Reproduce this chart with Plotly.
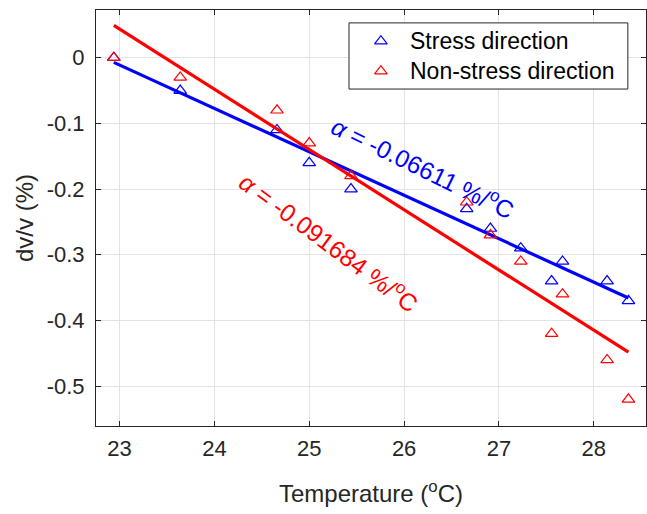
import numpy as np
import plotly.graph_objects as go

# Measured temperatures and relative velocity change
temperature = [22.94, 23.64, 24.66, 25.00, 25.44, 26.66, 26.91, 27.23, 27.555, 27.67, 28.14, 28.365]
dvv_stress = [0.00, -0.05, -0.11, -0.16, -0.20, -0.23, -0.26, -0.29, -0.34, -0.31, -0.34, -0.37]
dvv_nonstress = [0.00, -0.03, -0.08, -0.13, -0.18, -0.22, -0.27, -0.31, -0.42, -0.36, -0.46, -0.52]

# Temperature sensitivities (slope of the linear fit, %/degC)
alpha_stress = -0.06611
alpha_nonstress = -0.091684

series_names = ["Stress direction", "Non-stress direction"]

x_ticks = [23, 24, 25, 26, 27, 28]
y_ticks = [0, -0.1, -0.2, -0.3, -0.4, -0.5]

BLUE = "#0000ff"
RED = "#ff0000"
INK = "#262626"
FONT = "Liberation Sans, Arial, Helvetica, sans-serif"


def fit_line(x, y, slope):
    x = np.asarray(x, dtype=float)
    y = np.asarray(y, dtype=float)
    intercept = y.mean() - slope * x.mean()
    xs = np.array([x.min(), x.max()])
    return xs, intercept + slope * xs


fig = go.Figure()

for y, color, name, slope in [
    (dvv_stress, BLUE, series_names[0], alpha_stress),
    (dvv_nonstress, RED, series_names[1], alpha_nonstress),
]:
    fig.add_trace(go.Scatter(
        x=temperature, y=y, mode="markers", name=name, showlegend=False,
        marker=dict(symbol="triangle-up-open", size=11, color=color,
                    line=dict(width=1.2, color=color)),
    ))
    lx, ly = fit_line(temperature, y, slope)
    fig.add_trace(go.Scatter(
        x=lx, y=ly, mode="lines", showlegend=False,
        line=dict(color=color, width=3.2), hoverinfo="skip",
    ))

fig.add_annotation(
    x=26.207, y=-0.165, xref="x", yref="y", showarrow=False,
    text=f"<i>α</i> = {alpha_stress:.5f} %/<sup>o</sup>C",
    textangle=26, font=dict(size=24.5, color=BLUE, family=FONT),
)
fig.add_annotation(
    x=25.218, y=-0.2805, xref="x", yref="y", showarrow=False,
    text=f"<i>α</i> = {alpha_nonstress:.6f} %/<sup>o</sup>C",
    textangle=36.5, font=dict(size=24.5, color=RED, family=FONT),
)

# Legend box in the upper right corner, laid out on a unit overlay axis
box_x0, box_x1, box_y0, box_y1 = 0.460, 0.967, 0.810, 0.969
row_y = [0.925, 0.853]
fig.add_trace(go.Scatter(
    x=[box_x0, box_x1, box_x1, box_x0, box_x0],
    y=[box_y0, box_y0, box_y1, box_y1, box_y0],
    xaxis="x2", yaxis="y2", mode="lines", fill="toself",
    fillcolor="white", line=dict(color=INK, width=1),
    showlegend=False, hoverinfo="skip",
))
fig.add_trace(go.Scatter(
    x=[0.518, 0.518], y=row_y, xaxis="x2", yaxis="y2", mode="markers",
    showlegend=False, hoverinfo="skip",
    marker=dict(symbol="triangle-up-open", size=11, color=[BLUE, RED],
                line=dict(width=1.2, color=[BLUE, RED])),
))
for name, ry in zip(series_names, row_y):
    fig.add_annotation(x=0.568, y=ry, xref="paper", yref="paper",
                       xanchor="left", yanchor="middle", showarrow=False,
                       text=name, font=dict(size=23, color="black", family=FONT))

axis_common = dict(
    showline=True, linecolor=INK, linewidth=1, mirror="ticks",
    ticks="inside", ticklen=5, tickcolor=INK,
    showgrid=True, gridcolor="#e3e3e3", gridwidth=1,
    zeroline=False, tickfont=dict(size=22, color=INK, family=FONT),
)

fig.update_xaxes(
    range=[22.752, 28.55], tickvals=x_ticks, ticktext=[str(v) for v in x_ticks],
    title=dict(text="Temperature (<sup>o</sup>C)", font=dict(size=24, color=INK, family=FONT), standoff=24),
    ticklabelstandoff=3,
    **axis_common,
)
fig.update_yaxes(
    range=[-0.5606, 0.0726], tickvals=y_ticks, ticktext=[("%g" % v) for v in y_ticks],
    title=dict(text="dv/v (%)", font=dict(size=24, color=INK, family=FONT), standoff=6),
    ticklabelstandoff=6,
    **axis_common,
)

fig.update_layout(
    width=647, height=514,
    margin=dict(l=96, r=1, t=10, b=88),
    plot_bgcolor="white", paper_bgcolor="white",
    font=dict(family=FONT, color=INK),
    showlegend=False,
    xaxis2=dict(overlaying="x", range=[0, 1], visible=False, fixedrange=True),
    yaxis2=dict(overlaying="y", range=[0, 1], visible=False, fixedrange=True),
)

fig.write_html("out.html")
